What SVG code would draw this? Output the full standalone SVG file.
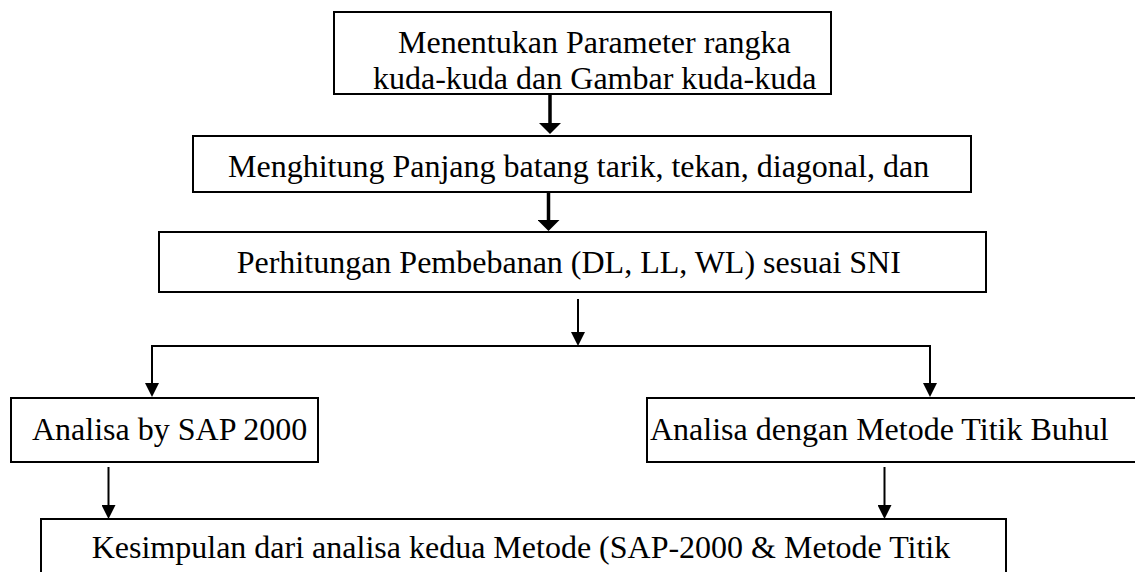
<svg xmlns="http://www.w3.org/2000/svg" width="1135" height="572" viewBox="0 0 1135 572">
<style>
.box{fill:#fff;stroke:#000;stroke-width:2}
.lbl{font-family:"Liberation Serif","Times New Roman",serif;font-size:32px;fill:#000}
.thick{stroke:#000;stroke-width:3.5;fill:none}
.thin{stroke:#000;stroke-width:2;fill:none}
</style>
<defs>
<marker id="headBig" markerUnits="userSpaceOnUse" viewBox="0 0 11 22" markerWidth="11" markerHeight="22" refX="0" refY="11" orient="auto">
<path d="M0,0 L11,11 L0,22 Z" fill="#000"/>
</marker>
<marker id="headSmall" markerUnits="userSpaceOnUse" viewBox="0 0 14 14" markerWidth="14" markerHeight="14" refX="0" refY="7" orient="auto">
<path d="M0,0 L14,7 L0,14 Z" fill="#000"/>
</marker>
</defs>
<rect width="1135" height="572" fill="#fff"/>
<g id="connectors">
<line class="thick" x1="550" y1="94" x2="550" y2="123" marker-end="url(#headBig)"/>
<line class="thick" x1="548.5" y1="192" x2="548.5" y2="220" marker-end="url(#headBig)"/>
<line class="thin" x1="578" y1="299" x2="578" y2="332" marker-end="url(#headSmall)"/>
<line class="thin" x1="151" y1="346" x2="931" y2="346"/>
<line class="thin" x1="152" y1="345" x2="152" y2="383" marker-end="url(#headSmall)"/>
<line class="thin" x1="930" y1="345" x2="930" y2="383" marker-end="url(#headSmall)"/>
<line class="thin" x1="108.5" y1="467" x2="108.5" y2="505" marker-end="url(#headSmall)"/>
<line class="thin" x1="884.5" y1="467" x2="884.5" y2="505" marker-end="url(#headSmall)"/>
</g>
<g id="node1">
<rect class="box" x="334" y="12" width="497" height="82"/>
<text class="lbl" x="398" y="52.7">Menentukan Parameter rangka</text>
<text class="lbl" x="373" y="89.3">kuda-kuda dan Gambar kuda-kuda</text>
</g>
<g id="node2">
<rect class="box" x="193" y="136" width="778" height="56"/>
<text class="lbl" x="228" y="176.7">Menghitung Panjang batang tarik, tekan, diagonal, dan</text>
</g>
<g id="node3">
<rect class="box" x="159" y="232" width="827" height="60"/>
<text class="lbl" x="236.7" y="273.3">Perhitungan Pembebanan (DL, LL, WL) sesuai SNI</text>
</g>
<g id="node4">
<rect class="box" x="11" y="398" width="307" height="64"/>
<text class="lbl" x="32" y="440">Analisa by SAP 2000</text>
</g>
<g id="node5">
<rect class="box" x="647" y="398" width="500" height="64"/>
<text class="lbl" x="650" y="440">Analisa dengan Metode Titik Buhul</text>
</g>
<g id="node6">
<rect class="box" x="41" y="519" width="965" height="70"/>
<text class="lbl" x="91.7" y="557.5">Kesimpulan dari analisa kedua Metode (SAP-2000 &amp; Metode Titik</text>
</g>
</svg>
